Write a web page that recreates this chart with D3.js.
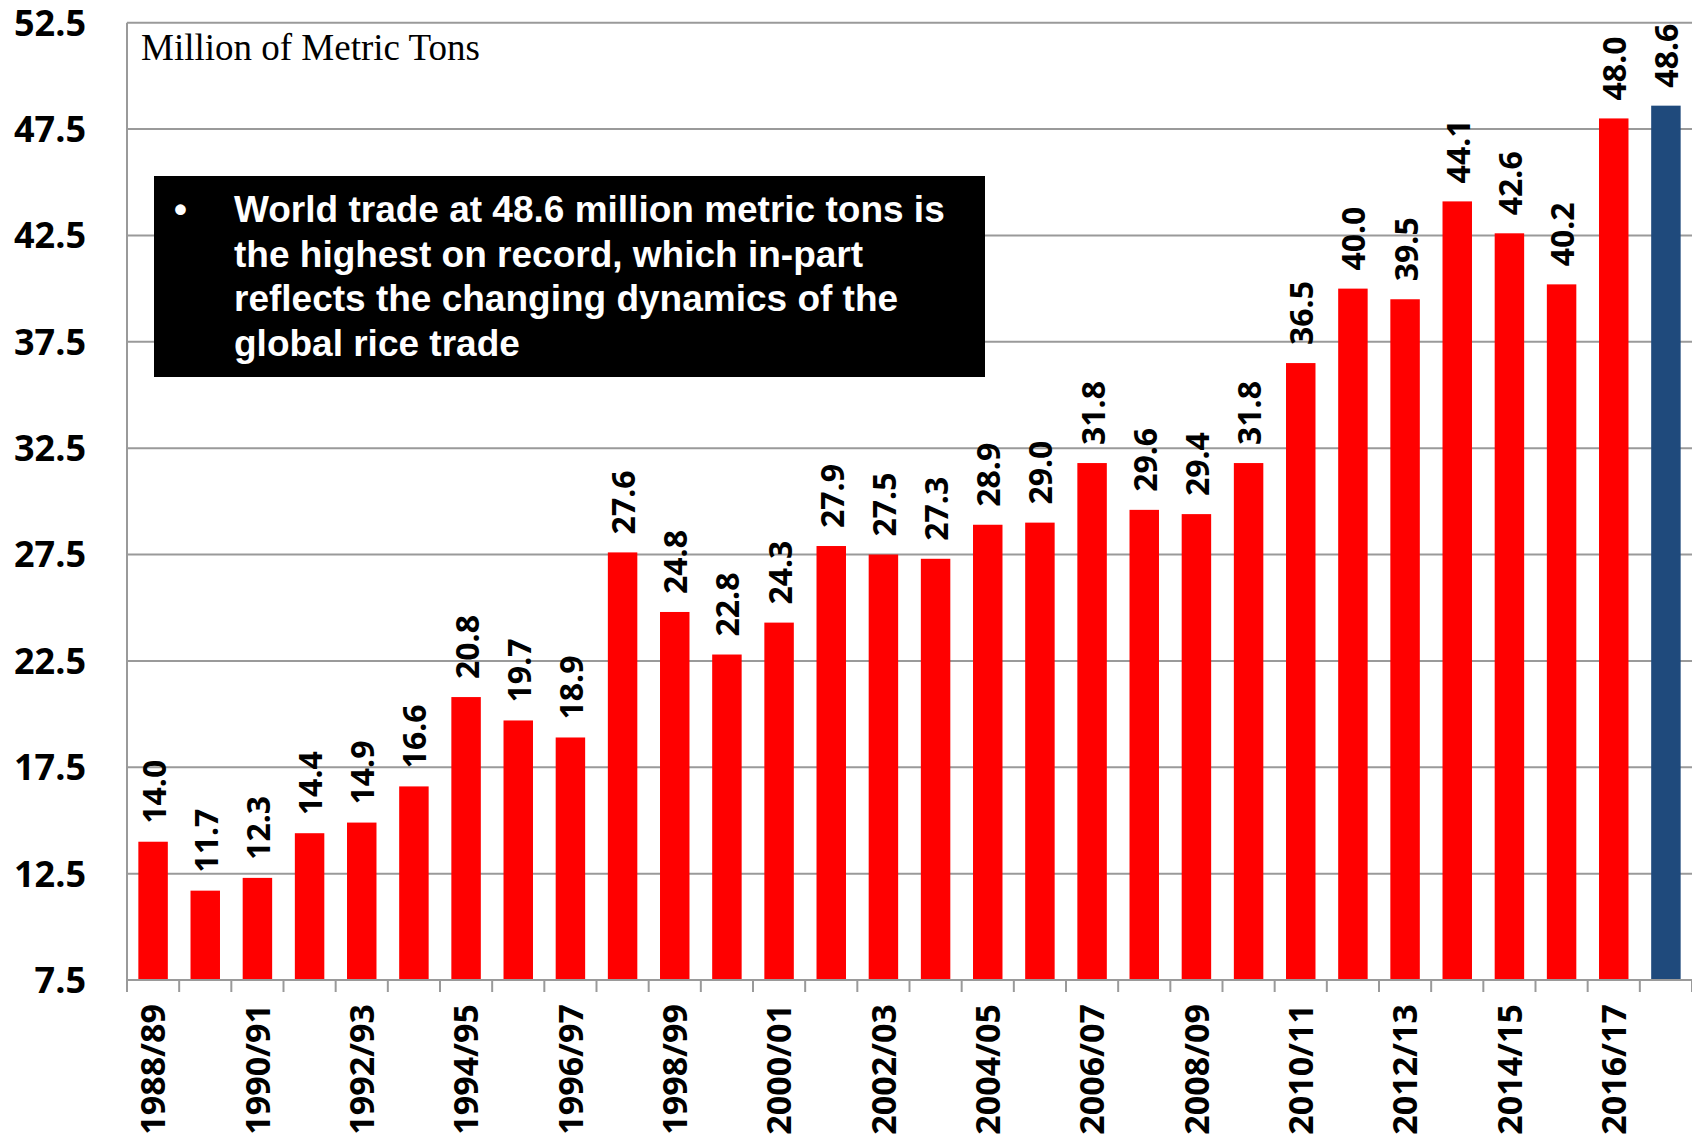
<!DOCTYPE html>
<html>
<head>
<meta charset="utf-8">
<script src="https://cdn.jsdelivr.net/npm/d3@7"></script>
<style>
  html, body { margin: 0; padding: 0; background: #fff; }
  svg { display: block; }
</style>
</head>
<body>
<svg id="chart" width="1692" height="1138"></svg>
<script>
const categories = ["1988/89","1989/90","1990/91","1991/92","1992/93","1993/94","1994/95","1995/96","1996/97","1997/98",
  "1998/99","1999/00","2000/01","2001/02","2002/03","2003/04","2004/05","2005/06","2006/07","2007/08",
  "2008/09","2009/10","2010/11","2011/12","2012/13","2013/14","2014/15","2015/16","2016/17","2017/18"];
const values = [14.0,11.7,12.3,14.4,14.9,16.6,20.8,19.7,18.9,27.6,
  24.8,22.8,24.3,27.9,27.5,27.3,28.9,29.0,31.8,29.6,
  29.4,31.8,36.5,40.0,39.5,44.1,42.6,40.2,48.0,48.6];
const yTicks = [7.5,12.5,17.5,22.5,27.5,32.5,37.5,42.5,47.5,52.5];
const xTickLabels = categories.filter((d,i) => i % 2 === 0);
const unitLabel = "Million of Metric Tons";
const noteLines = ["World trade at 48.6 million metric tons is",
  "the highest on record, which in-part",
  "reflects the changing dynamics of the",
  "global rice trade"];

(function draw() {
const svg = d3.select("#chart");
const pLeft = 127, pRight = 1692, pTop = 22.7, pBottom = 980;

const x = d3.scaleBand().domain(categories).range([pLeft, pRight])
  .paddingInner(0.435).paddingOuter(0.2175);
const y = d3.scaleLinear().domain([7.5, 52.5]).range([pBottom, pTop]);

const grid = "#9a9a9a";

// gridlines
svg.append("g").selectAll("line").data(yTicks.filter(t => t > 7.5)).join("line")
  .attr("x1", pLeft).attr("x2", pRight)
  .attr("y1", d => y(d)).attr("y2", d => y(d))
  .attr("stroke", grid).attr("stroke-width", 2);

// y axis labels
svg.append("g").selectAll("text").data(yTicks).join("text")
  .attr("x", 86).attr("y", d => y(d)).attr("dy", "0.36em")
  .attr("text-anchor", "end")
  .attr("font-family", "'Open Sans', sans-serif").attr("font-weight", 700)
  .attr("font-size", 36).attr("fill", "#000")
  .text(d => d.toFixed(1));

// bars
svg.append("g").selectAll("rect").data(values).join("rect")
  .attr("x", (d,i) => x(categories[i]))
  .attr("width", x.bandwidth())
  .attr("y", d => y(d))
  .attr("height", d => pBottom - y(d))
  .attr("fill", (d,i) => i === values.length - 1 ? "#1f4a7c" : "#ff0000");

// left axis line
svg.append("line").attr("x1", pLeft).attr("x2", pLeft).attr("y1", pTop).attr("y2", pBottom)
  .attr("stroke", grid).attr("stroke-width", 2);

// bottom axis with ticks at band boundaries
const step = x.step();
const boundaries = d3.range(categories.length + 1).map(i => pLeft + i * step);
svg.append("line").attr("x1", pLeft).attr("x2", pRight).attr("y1", pBottom).attr("y2", pBottom)
  .attr("stroke", grid).attr("stroke-width", 2);
svg.append("g").selectAll("line").data(boundaries).join("line")
  .attr("x1", d => d).attr("x2", d => d).attr("y1", pBottom).attr("y2", pBottom + 12)
  .attr("stroke", grid).attr("stroke-width", 2);

// x labels
svg.append("g").selectAll("text").data(xTickLabels).join("text")
  .attr("transform", d => `translate(${x(d) + x.bandwidth()/2},1004) rotate(-90)`)
  .attr("dy", "0.36em")
  .attr("text-anchor", "end")
  .attr("font-family", "'Open Sans', sans-serif").attr("font-weight", 700)
  .attr("font-size", 34).attr("fill", "#000")
  .text(d => d);

// data labels
svg.append("g").selectAll("text").data(values).join("text")
  .attr("transform", (d,i) => `translate(${x(categories[i]) + x.bandwidth()/2 + 1},${y(d) - 18}) rotate(-90)`)
  .attr("dy", "0.36em")
  .attr("text-anchor", "start")
  .attr("font-family", "'Open Sans', sans-serif").attr("font-weight", 700)
  .attr("font-size", 32).attr("fill", "#000")
  .text(d => d.toFixed(1));

// unit label
svg.append("text").attr("x", 141).attr("y", 60)
  .attr("font-family", "'Liberation Serif', 'Times New Roman', serif")
  .attr("font-size", 37).attr("fill", "#000")
  .text(unitLabel);

// annotation box
const note = svg.append("g");
note.append("rect").attr("x", 154).attr("y", 176).attr("width", 831).attr("height", 201).attr("fill", "#000");
note.append("text").attr("x", 174).attr("y", 222)
  .attr("font-family", "'Liberation Sans', Arial, sans-serif").attr("font-weight", 700)
  .attr("font-size", 37).attr("fill", "#fff").text("\u2022");
note.selectAll("text.line").data(noteLines).join("text").attr("class", "line")
  .attr("x", 234).attr("y", (d,i) => 222 + i * 44.5)
  .attr("font-family", "'Liberation Sans', Arial, sans-serif").attr("font-weight", 700)
  .attr("font-size", 37).attr("fill", "#fff")
  .text(d => d);
})();
</script>
</body>
</html>
